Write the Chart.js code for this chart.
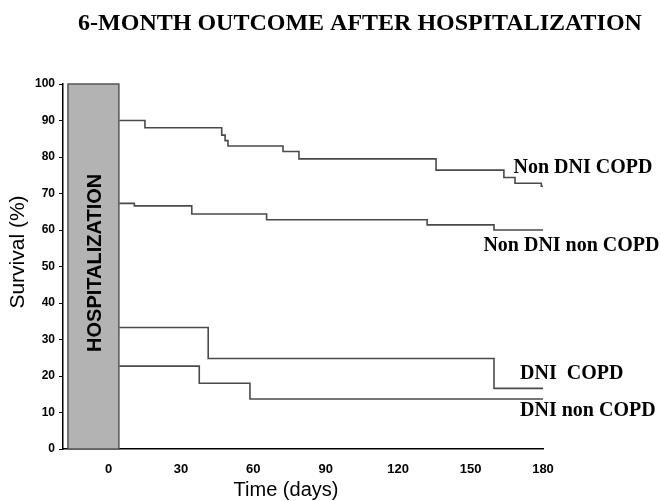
<!DOCTYPE html>
<html>
<head>
<meta charset="utf-8">
<script src="https://cdn.jsdelivr.net/npm/chart.js@4"></script>
<style>
  body { margin: 0; background: #fff; }
  #wrap { width: 661px; height: 501px; }
</style>
</head>
<body>
<div id="wrap"><canvas id="kmChart" width="661" height="501"></canvas></div>
<script>
// survival curves (day of each drop, survival after it)
const nonDniCopdDays = [4.5, 15.1, 46.9, 48.3, 49.5, 72.3, 78.9, 135.7, 163.8, 168.4, 179.3, 180];
const nonDniCopdSurv = [90, 88, 86, 84.5, 83, 81.5, 79.5, 76.4, 74.4, 72.8, 72, 72];

const nonDniNonCopdDays = [4.5, 10.7, 34.5, 65.5, 132, 159.7, 180];
const nonDniNonCopdSurv = [67.3, 66.6, 64.4, 62.8, 61.4, 60, 60];

const dniCopdDays = [4.5, 41.3, 159.7, 180];
const dniCopdSurv = [33.3, 24.8, 16.6, 16.6];

const dniNonCopdDays = [4.5, 37.6, 58.6, 180];
const dniNonCopdSurv = [22.7, 18, 13.7, 13.7];

const seriesNames = ['Non DNI COPD', 'Non DNI non COPD', 'DNI  COPD', 'DNI non COPD'];
// where each curve name sits (day, survival %)
const labelDays = [167.8, 155.3, 170.5, 170.5];
const labelSurv = [77.1, 55.6, 20.5, 10.4];

const xTickValues = [0, 30, 60, 90, 120, 150, 180];
const hospStart = -16.8;
const hospEnd = 4.3;

function toPoints(days, surv) {
    return days.map((d, i) => ({ x: d, y: surv[i] }));
}

const lineColor = '#4a4a4a';

function curve(label, days, surv) {
    return {
        label: label,
        data: toPoints(days, surv),
        stepped: 'before',
        borderColor: lineColor,
        borderWidth: 1.6,
        pointRadius: 0,
        fill: false
    };
}

const extras = {
    id: 'extras',
    beforeDatasetsDraw(chart) {
        const ctx = chart.ctx;
        const x = chart.scales.x;
        const y = chart.scales.y;
        const left = x.getPixelForValue(hospStart);
        const right = x.getPixelForValue(hospEnd);
        const top = y.getPixelForValue(100);
        const bottom = y.getPixelForValue(0);
        ctx.save();
        ctx.fillStyle = '#b3b3b3';
        ctx.fillRect(left, top, right - left, bottom - top);
        ctx.strokeStyle = '#555';
        ctx.lineWidth = 1.5;
        ctx.strokeRect(left, top, right - left, bottom - top);
        ctx.translate((left + right) / 2 + 2, y.getPixelForValue(51));
        ctx.rotate(-Math.PI / 2);
        ctx.fillStyle = '#000';
        ctx.font = 'bold 20px "Liberation Sans", Arial, sans-serif';
        ctx.textAlign = 'center';
        ctx.textBaseline = 'middle';
        ctx.fillText('HOSPITALIZATION', 0, 0);
        ctx.restore();
    },
    afterDraw(chart) {
        const ctx = chart.ctx;
        const x = chart.scales.x;
        const y = chart.scales.y;
        ctx.save();
        ctx.fillStyle = '#000';
        ctx.textBaseline = 'middle';
        ctx.font = 'bold 20px "Liberation Serif", "Times New Roman", serif';
        seriesNames.forEach((name, i) => {
            ctx.textAlign = 'left';
            ctx.fillText(name, x.getPixelForValue(labelDays[i]), y.getPixelForValue(labelSurv[i]));
        });
        // chart title
        ctx.font = 'bold 24px "Liberation Serif", "Times New Roman", serif';
        ctx.textAlign = 'center';
        ctx.fillText('6-MONTH OUTCOME AFTER HOSPITALIZATION', 360, 24);
        // axis titles
        ctx.font = '20px "Liberation Sans", Arial, sans-serif';
        ctx.fillText('Time (days)', 286, 490);
        ctx.translate(18, 252);
        ctx.rotate(-Math.PI / 2);
        ctx.font = '21px "Liberation Sans", Arial, sans-serif';
        ctx.fillText('Survival (%)', 0, 0);
        ctx.restore();
    }
};

new Chart(document.getElementById('kmChart'), {
    type: 'line',
    data: {
        datasets: [
            curve(seriesNames[0], nonDniCopdDays, nonDniCopdSurv),
            curve(seriesNames[1], nonDniNonCopdDays, nonDniNonCopdSurv),
            curve(seriesNames[2], dniCopdDays, dniCopdSurv),
            curve(seriesNames[3], dniNonCopdDays, dniNonCopdSurv)
        ]
    },
    options: {
        responsive: false,
        animation: false,
        layout: { padding: { top: 84, right: 118, left: 0, bottom: 0 } },
        plugins: {
            legend: { display: false },
            tooltip: { enabled: false }
        },
        scales: {
            x: {
                type: 'linear',
                min: -18.85,
                max: 180,
                afterBuildTicks: (scale) => {
                    scale.ticks = xTickValues.map(v => ({ value: v }));
                },
                afterFit: (scale) => { scale.height = 52; },
                grid: { drawOnChartArea: false, drawTicks: false },
                border: { color: '#000', width: 1.5 },
                ticks: {
                    color: '#000',
                    padding: 13,
                    maxRotation: 0,
                    autoSkip: false,
                    font: { family: '"Liberation Sans", Arial, sans-serif', size: 13, weight: 'bold' }
                }
            },
            y: {
                min: 0,
                max: 100,
                afterFit: (scale) => { scale.width = 63; },
                grid: { drawOnChartArea: false, tickLength: 4, tickColor: '#000' },
                border: { color: '#000', width: 1.5 },
                ticks: {
                    stepSize: 10,
                    color: '#000',
                    padding: 4,
                    font: { family: '"Liberation Sans", Arial, sans-serif', size: 12, weight: 'bold' }
                }
            }
        }
    },
    plugins: [extras]
});
</script>
</body>
</html>
